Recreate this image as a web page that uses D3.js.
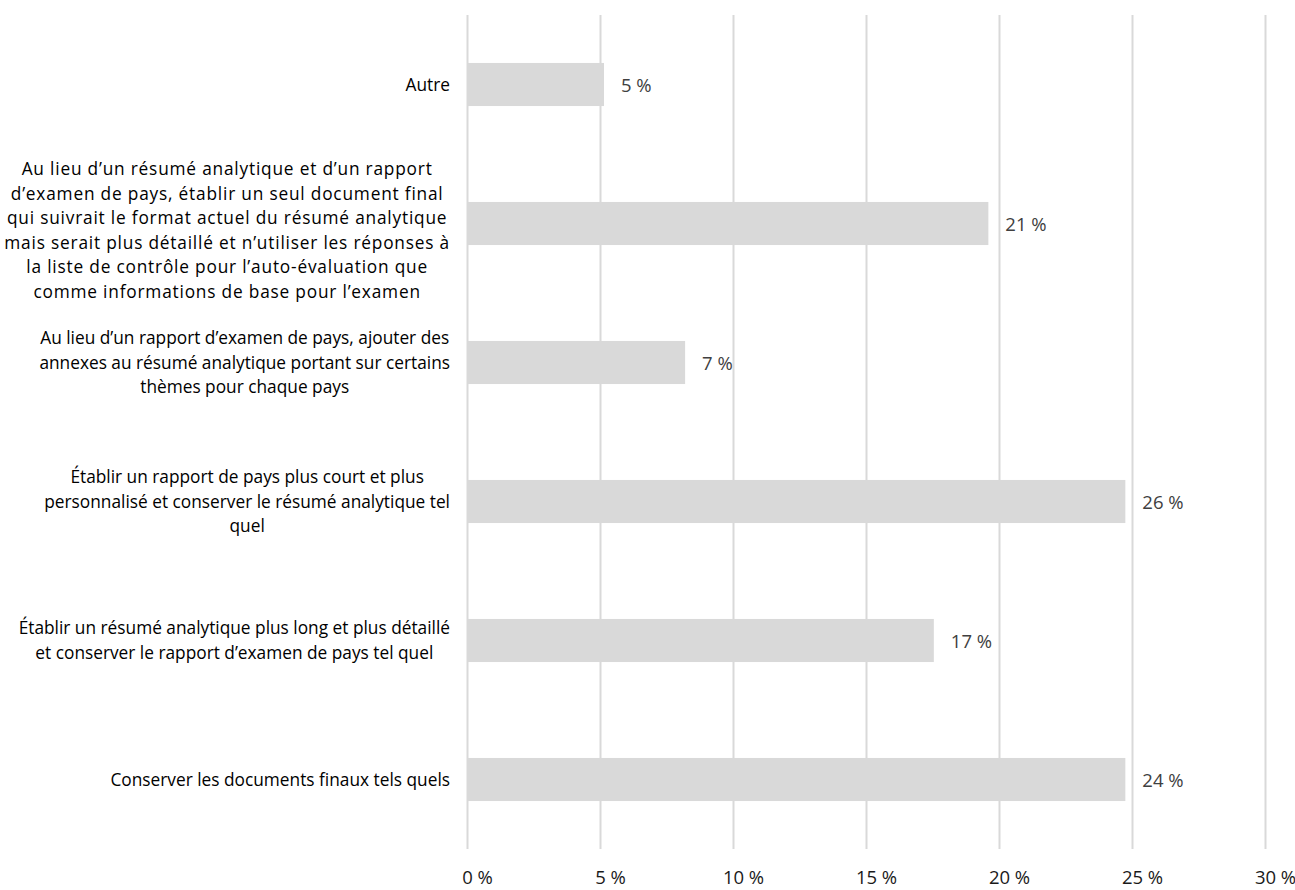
<!DOCTYPE html>
<html>
<head>
<meta charset="utf-8">
<script src="https://cdn.jsdelivr.net/npm/d3@7"></script>
<style>
    body { margin: 0; background: #ffffff; }
    svg text { font-family: "Open Sans", "Noto Sans", sans-serif; }
</style>
</head>
<body>
<svg id="barChart" width="1295" height="890"></svg>
<script>
// categories, top to bottom, already wrapped as in the picture
let categories = [
    ["Autre"],
    ["Au lieu d\u2019un résumé analytique et d\u2019un rapport",
     "d\u2019examen de pays, établir un seul document final",
     "qui suivrait le format actuel du résumé analytique",
     "mais serait plus détaillé et n\u2019utiliser les réponses à",
     "la liste de contrôle pour l\u2019auto-évaluation que",
     "comme informations de base pour l\u2019examen"],
    ["Au lieu d\u2019un rapport d\u2019examen de pays, ajouter des",
     "annexes au résumé analytique portant sur certains",
     "thèmes pour chaque pays"],
    ["Établir un rapport de pays plus court et plus",
     "personnalisé et conserver le résumé analytique tel",
     "quel"],
    ["Établir un résumé analytique plus long et plus détaillé",
     "et conserver le rapport d\u2019examen de pays tel quel"],
    ["Conserver les documents finaux tels quels"]
];
// bar lengths as drawn (percent)
let barValues = [5.15, 19.6, 8.2, 24.75, 17.55, 24.75];
// value labels as printed
let valueLabels = ["5 %", "21 %", "7 %", "26 %", "17 %", "24 %"];
let xTicks = [0, 5, 10, 15, 20, 25, 30];

let svgContainer = d3.select("svg#barChart");
let plot = { "left": 467, "right": 1265, "top": 15, "bottom": 849 };

let xScale = d3.scaleLinear().domain([0, 30]).range([plot.left, plot.right]);
let yScale = d3.scaleBand()
    .domain(d3.range(categories.length))
    .range([plot.top, plot.bottom])
    .paddingInner(0.69)
    .paddingOuter(0.345);

// vertical grid lines
let xGrid = d3.axisBottom(xScale).tickValues(xTicks).tickSize(-(plot.bottom - plot.top)).tickFormat("");
svgContainer.append("g")
    .attr("transform", "translate(0," + plot.bottom + ")")
    .call(xGrid)
    .call(g => g.select(".domain").remove())
    .selectAll(".tick line")
    .attr("stroke", "#d9d9d9")
    .attr("stroke-width", 2);

// tick labels
let xAxis = d3.axisBottom(xScale).tickValues(xTicks).tickSize(0).tickFormat(d => d + " %");
svgContainer.append("g")
    .attr("transform", "translate(0," + 868 + ")")
    .call(xAxis)
    .call(g => g.select(".domain").remove())
    .selectAll(".tick text")
    .attr("dx", 10)
    .attr("fill", "#1a1a1a")
    .style("font-size", "18.5px");

// bars
svgContainer.append("g").selectAll("rect")
    .data(barValues)
    .enter()
    .append("rect")
    .attr("x", xScale(0))
    .attr("y", (d, i) => yScale(i))
    .attr("width", d => xScale(d) - xScale(0))
    .attr("height", yScale.bandwidth())
    .attr("fill", "#d9d9d9");

// value labels
svgContainer.append("g").selectAll("text")
    .data(barValues)
    .enter()
    .append("text")
    .attr("x", d => xScale(d) + 17)
    .attr("y", (d, i) => yScale(i) + yScale.bandwidth() / 2 + 1)
    .attr("dy", "0.35em")
    .attr("fill", "#404040")
    .style("font-size", "18.5px")
    .text((d, i) => valueLabels[i]);

// category labels: centered block, right edge at 450
let lineHeight = 24.5;
let labelRight = 450;
let labelGroup = svgContainer.append("g");
categories.forEach(function (lines, i) {
    let g = labelGroup.append("g");
    let longLabel = lines.length > 4;
    let center = yScale(i) + yScale.bandwidth() / 2 + (longLabel ? 7 : 0);
    let firstY = center - (lines.length - 1) * lineHeight / 2;
    let texts = g.selectAll("text")
        .data(lines)
        .enter()
        .append("text")
        .attr("y", (d, j) => firstY + j * lineHeight)
        .attr("dy", "0.35em")
        .attr("text-anchor", "middle")
        .attr("fill", "#000000")
        .style("font-size", "17.3px")
        .style("letter-spacing", longLabel ? "0.8px" : "0px")
        .text(d => d);
    let maxWidth = d3.max(texts.nodes(), n => n.getBBox().width);
    texts.attr("x", labelRight - maxWidth / 2);
});
</script>
</body>
</html>
